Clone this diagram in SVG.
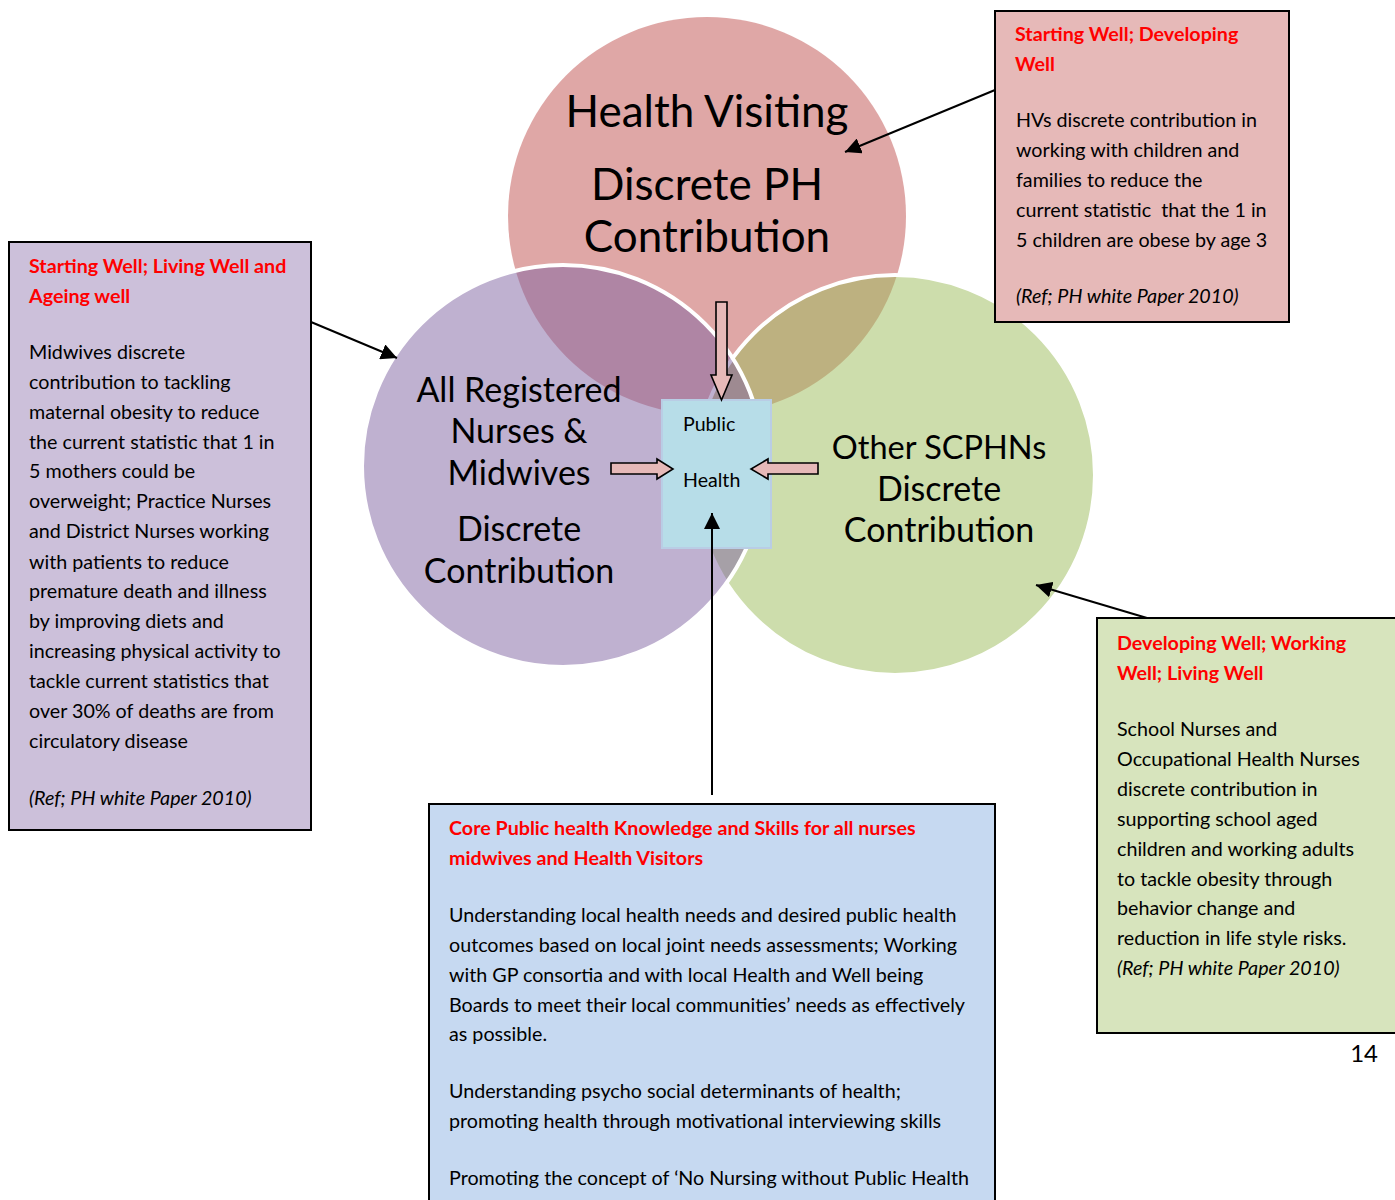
<svg xmlns="http://www.w3.org/2000/svg" width="1395" height="1200" viewBox="0 0 1395 1200">
<defs>
<marker id="ah" viewBox="0 0 10 10" refX="10" refY="5" markerWidth="16" markerHeight="16" markerUnits="userSpaceOnUse" orient="auto">
<path d="M0,0 L10,5 L0,10 z" fill="#000"/>
</marker>
<style>
.t{font-family:Lato,"Liberation Sans",sans-serif;fill:#000}
.body{font-size:19.7px}
.head{font-size:19.7px;font-weight:bold;fill:#FF0000}
.it{font-style:italic}
.big{font-size:34px;text-anchor:middle}
.hv{font-size:44px}
.box{stroke:#000;stroke-width:2}
.blk{stroke:#000;stroke-width:1.6;fill:#E6B9B8}
.conn{stroke:#000;stroke-width:2;fill:none;marker-end:url(#ah)}
</style>
</defs>
<rect width="1395" height="1200" fill="#fff"/>

<g id="circle-hv">
<circle cx="707" cy="216" r="199" fill="#C0504D" fill-opacity="0.5"/>
</g>
<g id="circle-scphn">
<circle cx="895" cy="475" r="200" fill="#9BBB59" fill-opacity="0.5" stroke="#fff" stroke-width="4"/>
</g>
<g id="circle-nm">
<circle cx="563" cy="466" r="201" fill="#8064A2" fill-opacity="0.5" stroke="#fff" stroke-width="4"/>
</g>

<g id="hv-label">
<text class="t big hv" x="707" y="127">Health Visiting</text>
<text class="t big hv" x="707" y="200">Discrete PH</text>
<text class="t big hv" x="707" y="252">Contribution</text>
</g>
<g id="nm-label">
<text class="t big" x="519" y="402">All Registered</text>
<text class="t big" x="519" y="443">Nurses &amp;</text>
<text class="t big" x="519" y="485">Midwives</text>
<text class="t big" x="519" y="541">Discrete</text>
<text class="t big" x="519" y="583">Contribution</text>
</g>
<g id="scphn-label">
<text class="t big" x="939" y="459" style="font-size:32.5px">Other SCPHNs</text>
<text class="t big" x="939" y="501">Discrete</text>
<text class="t big" x="939" y="542">Contribution</text>
</g>

<g id="public-health">
<rect x="662" y="400" width="109" height="148" fill="#B7DDE8" stroke="#B9CDE5" stroke-width="2"/>
<text class="t" x="683" y="431" font-size="19.6">Public</text>
<text class="t" x="683" y="487" font-size="19.6">Health</text>
</g>

<g id="connectors">
<path class="blk" d="M716,302 H727 V375 H732 L721.5,400 L711,375 H716 Z"/>
<path class="blk" d="M611,463 H657 V459 L673,469 L657,479 V474 H611 Z"/>
<path class="blk" d="M818,463 H768 V459 L751,469 L768,479 V474 H818 Z"/>
<line class="conn" x1="712" y1="795" x2="712" y2="513"/>
<line class="conn" x1="995" y1="90" x2="845" y2="152"/>
<line class="conn" x1="311" y1="322" x2="397" y2="358"/>
<line class="conn" x1="1147" y1="618" x2="1036" y2="585"/>
</g>

<g id="box-hv">
<rect class="box" x="995" y="11" width="294" height="311" fill="#E6B9B8"/>
<text class="t head" x="1015" y="41">Starting Well; Developing</text>
<text class="t head" x="1015" y="71">Well</text>
<text class="t body" x="1016" y="127">HVs discrete contribution in</text>
<text class="t body" x="1016" y="157">working with children and</text>
<text class="t body" x="1016" y="187">families to reduce the</text>
<text class="t body" x="1016" y="217" xml:space="preserve">current statistic  that the 1 in</text>
<text class="t body" x="1016" y="247">5 children are obese by age 3</text>
<text class="t body it" x="1016" y="303">(Ref; PH white Paper 2010)</text>
</g>

<g id="box-nm">
<rect class="box" x="9" y="242" width="302" height="588" fill="#CCC0DA"/>
<text class="t head" x="29" y="273">Starting Well; Living Well and</text>
<text class="t head" x="29" y="303">Ageing well</text>
<text class="t body" x="29" y="359">Midwives discrete</text>
<text class="t body" x="29" y="389">contribution to tackling</text>
<text class="t body" x="29" y="419">maternal obesity to reduce</text>
<text class="t body" x="29" y="449">the current statistic that 1 in</text>
<text class="t body" x="29" y="478">5 mothers could be</text>
<text class="t body" x="29" y="508">overweight; Practice Nurses</text>
<text class="t body" x="29" y="538">and District Nurses working</text>
<text class="t body" x="29" y="569">with patients to reduce</text>
<text class="t body" x="29" y="598">premature death and illness</text>
<text class="t body" x="29" y="628">by improving diets and</text>
<text class="t body" x="29" y="658">increasing physical activity to</text>
<text class="t body" x="29" y="688">tackle current statistics that</text>
<text class="t body" x="29" y="718">over 30% of deaths are from</text>
<text class="t body" x="29" y="748">circulatory disease</text>
<text class="t body it" x="29" y="805">(Ref; PH white Paper 2010)</text>
</g>

<g id="box-core">
<rect class="box" x="429" y="804" width="566" height="410" fill="#C6D9F1"/>
<text class="t head" x="449" y="835">Core Public health Knowledge and Skills for all nurses</text>
<text class="t head" x="449" y="865">midwives and Health Visitors</text>
<text class="t body" x="449" y="922">Understanding local health needs and desired public health</text>
<text class="t body" x="449" y="952">outcomes based on local joint needs assessments; Working</text>
<text class="t body" x="449" y="982">with GP consortia and with local Health and Well being</text>
<text class="t body" x="449" y="1012">Boards to meet their local communities’ needs as effectively</text>
<text class="t body" x="449" y="1041">as possible.</text>
<text class="t body" x="449" y="1098">Understanding psycho social determinants of health;</text>
<text class="t body" x="449" y="1128">promoting health through motivational interviewing skills</text>
<text class="t body" x="449" y="1185">Promoting the concept of ‘No Nursing without Public Health</text>
</g>

<g id="box-scphn">
<rect class="box" x="1097" y="618" width="310" height="415" fill="#D7E4BD"/>
<text class="t head" x="1117" y="650">Developing Well; Working</text>
<text class="t head" x="1117" y="680">Well; Living Well</text>
<text class="t body" x="1117" y="736">School Nurses and</text>
<text class="t body" x="1117" y="766">Occupational Health Nurses</text>
<text class="t body" x="1117" y="796">discrete contribution in</text>
<text class="t body" x="1117" y="826">supporting school aged</text>
<text class="t body" x="1117" y="856">children and working adults</text>
<text class="t body" x="1117" y="886">to tackle obesity through</text>
<text class="t body" x="1117" y="915">behavior change and</text>
<text class="t body" x="1117" y="945">reduction in life style risks.</text>
<text class="t body it" x="1117" y="975">(Ref; PH white Paper 2010)</text>
</g>

<g id="page-number">
<text class="t" x="1378" y="1062" font-size="24" text-anchor="end">14</text>
</g>
</svg>
